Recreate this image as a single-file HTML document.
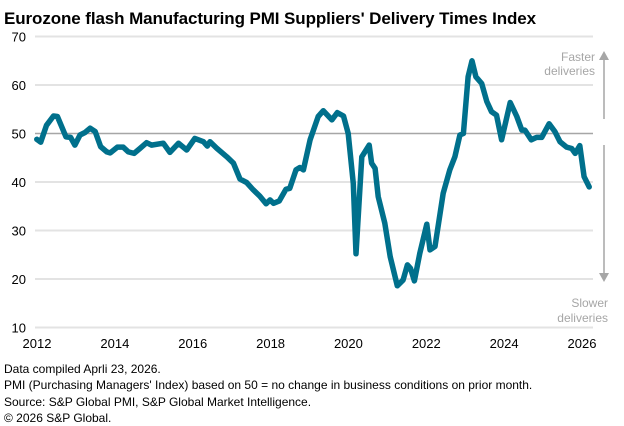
<!DOCTYPE html>
<html><head><meta charset="utf-8"><style>
body{margin:0;background:#fff;font-family:"Liberation Sans",Arial,sans-serif}
svg{display:block}
</style></head><body>
<svg id="chart" width="624" height="426" xmlns="http://www.w3.org/2000/svg">
<text x="4" y="24" font-size="17" font-weight="bold" fill="#000" letter-spacing="-0.1">Eurozone flash Manufacturing PMI Suppliers' Delivery Times Index</text>
<g id="grid"></g>
<g id="yticks"></g>
<g id="xticks"></g>
<path id="series" fill="none" stroke="#00708c" stroke-width="5.5" stroke-linejoin="round" stroke-linecap="round"/>
<g fill="#a6a6a6" font-size="12">
<text x="595" y="61" text-anchor="end">Faster</text>
<text x="595" y="75" text-anchor="end">deliveries</text>
<line x1="604" y1="58" x2="604" y2="119" stroke="#a6a6a6" stroke-width="1.5"/>
<polygon points="604,51 599,60 609,60"/>
</g>
<g fill="#a6a6a6" font-size="12">
<text x="608" y="307" text-anchor="end">Slower</text>
<text x="608" y="322" text-anchor="end">deliveries</text>
<line x1="604" y1="145" x2="604" y2="275" stroke="#a6a6a6" stroke-width="1.5"/>
<polygon points="604,282 599,273 609,273"/>
</g>
<g font-size="12" fill="#000">
<text x="4" y="373">Data compiled Aprli 23, 2026.</text>
<text x="4" y="389">PMI (Purchasing Managers' Index) based on 50 = no change in business conditions on prior month.</text>
<text x="4" y="406">Source: S&amp;P Global PMI, S&amp;P Global Market Intelligence.</text>
<text x="4" y="422">© 2026 S&amp;P Global.</text>
</g>
</svg>
<script>
const yTicks=[10,20,30,40,50,60,70];
const xTicks=[2012,2014,2016,2018,2020,2022,2024,2026];
const dates=[2012.02,2012.12,2012.27,2012.45,2012.55,2012.66,2012.77,2012.89,2013.0,2013.13,2013.26,2013.39,2013.52,2013.66,2013.82,2013.9,2013.94,2014.09,2014.24,2014.37,2014.52,2014.67,2014.84,2014.97,2015.27,2015.44,2015.66,2015.87,2016.08,2016.3,2016.4,2016.47,2016.64,2016.9,2017.07,2017.24,2017.41,2017.58,2017.75,2017.91,2018.01,2018.1,2018.25,2018.42,2018.52,2018.68,2018.78,2018.87,2019.04,2019.25,2019.38,2019.6,2019.74,2019.9,2020.02,2020.15,2020.22,2020.37,2020.56,2020.62,2020.71,2020.79,2020.96,2021.1,2021.28,2021.43,2021.54,2021.62,2021.72,2021.86,2022.04,2022.12,2022.25,2022.46,2022.63,2022.76,2022.89,2022.98,2023.1,2023.2,2023.3,2023.45,2023.58,2023.7,2023.83,2023.96,2024.18,2024.35,2024.48,2024.56,2024.72,2024.86,2024.99,2025.18,2025.33,2025.46,2025.63,2025.76,2025.85,2025.97,2026.08,2026.21];
const values=[48.8,48.2,51.7,53.6,53.5,51.4,49.3,49.2,47.6,49.7,50.2,51.1,50.4,47.3,46.2,46.0,46.2,47.2,47.2,46.2,45.9,46.9,48.1,47.6,48.0,46.1,48.0,46.6,49.0,48.3,47.4,48.3,47.0,45.2,43.9,40.6,39.9,38.4,37.1,35.5,36.3,35.6,36.1,38.5,38.7,42.5,43.0,42.5,48.7,53.5,54.7,52.8,54.3,53.6,50.0,39.7,25.2,45.2,47.6,43.9,42.8,37.0,31.5,24.6,18.6,19.8,22.9,22.2,19.6,25.3,31.3,26.0,26.7,37.7,42.5,45.2,49.7,50.0,61.7,65.0,61.7,60.3,56.6,54.5,53.8,48.7,56.4,53.5,50.7,50.7,48.7,49.2,49.2,52.0,50.4,48.3,47.2,46.9,45.9,47.5,41.1,39.0];
const X=t=>36+(t-2012)*(545/14);
const Y=v=>327.5-(v-10)*4.85;
const NS='http://www.w3.org/2000/svg';
const grid=document.getElementById('grid'),yt=document.getElementById('yticks'),xt=document.getElementById('xticks');
yTicks.forEach(v=>{
 const l=document.createElementNS(NS,'line');
 l.setAttribute('x1',35);l.setAttribute('x2',593);l.setAttribute('y1',Y(v));l.setAttribute('y2',Y(v));
 l.setAttribute('stroke',v===50?'#a6a6a6':'#e3e3e3');l.setAttribute('stroke-width',v===50?1.5:2);
 
 
 grid.appendChild(l);
 const t=document.createElementNS(NS,'text');
 t.setAttribute('x',26);t.setAttribute('y',Y(v)+5);t.setAttribute('text-anchor','end');t.setAttribute('font-size','13');
 t.textContent=v;
 
 
 yt.appendChild(t);
});
xTicks.forEach(v=>{
 const t=document.createElementNS(NS,'text');
 t.setAttribute('x',X(v)+1);t.setAttribute('y',348);t.setAttribute('text-anchor','middle');t.setAttribute('font-size','13');
 t.textContent=v;
 
 
 xt.appendChild(t);
});
document.getElementById('series').setAttribute('d',dates.map((d,i)=>(i?'L':'M')+X(d).toFixed(1)+','+Y(values[i]).toFixed(1)).join(''));
</script>
</body></html>
